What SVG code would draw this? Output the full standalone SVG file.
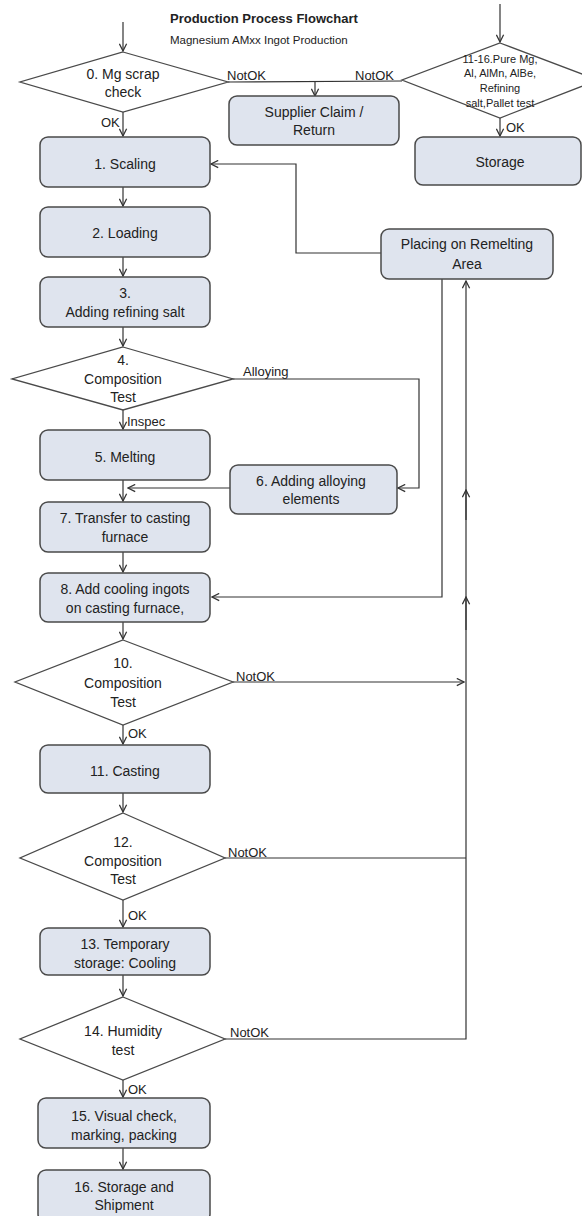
<svg xmlns="http://www.w3.org/2000/svg" width="582" height="1216" viewBox="0 0 582 1216">
<defs>
<style>
.box{fill:#dfe4ee;stroke:#4a4a4a;stroke-width:1.5}
.dia{fill:#ffffff;stroke:#4a4a4a;stroke-width:1.3}
.t{font-family:"Liberation Sans",Arial,sans-serif;font-size:14px;fill:#222;text-anchor:middle}
.s{font-family:"Liberation Sans",Arial,sans-serif;font-size:11px;fill:#222;text-anchor:middle}
.l{font-family:"Liberation Sans",Arial,sans-serif;font-size:13px;fill:#222}
.c{fill:none;stroke:#333;stroke-width:1.2}
</style>
<marker id="arr" viewBox="0 0 10 10" refX="9" refY="5" markerWidth="9" markerHeight="9" markerUnits="userSpaceOnUse" orient="auto">
<path d="M1,1 L9,5 L1,9" fill="none" stroke="#333" stroke-width="1.4"/>
</marker>
</defs>
<rect width="582" height="1216" fill="#ffffff"/>
<g id="title">
<text x="170" y="23" font-family="Liberation Sans,Arial,sans-serif" font-size="13" font-weight="bold" fill="#222">Production Process Flowchart</text>
<text x="170" y="44" font-family="Liberation Sans,Arial,sans-serif" font-size="11.5" fill="#222">Magnesium AMxx Ingot Production</text>
</g>
<g id="connectors">
<line class="c" x1="123" y1="22" x2="123" y2="51" marker-end="url(#arr)"/>
<line class="c" x1="228" y1="82" x2="402" y2="81"/>
<line class="c" x1="315" y1="82" x2="315" y2="96" marker-end="url(#arr)"/>
<line class="c" x1="500" y1="4" x2="500" y2="42" marker-end="url(#arr)"/>
<line class="c" x1="500" y1="118" x2="500" y2="136" marker-end="url(#arr)"/>
<line class="c" x1="123" y1="112" x2="123" y2="136" marker-end="url(#arr)"/>
<line class="c" x1="123" y1="187" x2="123" y2="206" marker-end="url(#arr)"/>
<line class="c" x1="123" y1="257" x2="123" y2="276" marker-end="url(#arr)"/>
<line class="c" x1="123" y1="327" x2="123" y2="346" marker-end="url(#arr)"/>
<line class="c" x1="123" y1="410" x2="123" y2="429" marker-end="url(#arr)"/>
<line class="c" x1="123" y1="480" x2="123" y2="501" marker-end="url(#arr)"/>
<line class="c" x1="123" y1="552" x2="123" y2="572" marker-end="url(#arr)"/>
<line class="c" x1="123" y1="622" x2="123" y2="639" marker-end="url(#arr)"/>
<line class="c" x1="123" y1="725" x2="123" y2="744" marker-end="url(#arr)"/>
<line class="c" x1="123" y1="793" x2="123" y2="812" marker-end="url(#arr)"/>
<line class="c" x1="123" y1="900" x2="123" y2="927" marker-end="url(#arr)"/>
<line class="c" x1="123" y1="975" x2="123" y2="996" marker-end="url(#arr)"/>
<line class="c" x1="123" y1="1080" x2="123" y2="1097" marker-end="url(#arr)"/>
<line class="c" x1="123" y1="1148" x2="123" y2="1169" marker-end="url(#arr)"/>
<polyline class="c" points="233,379 419,379 419,488 398,488" marker-end="url(#arr)"/>
<line class="c" x1="230" y1="488" x2="128" y2="488" marker-end="url(#arr)"/>
<polyline class="c" points="381,253 296,253 296,164 211,164" marker-end="url(#arr)"/>
<polyline class="c" points="442,279 442,597 212,597" marker-end="url(#arr)"/>
<line class="c" x1="233" y1="682" x2="464" y2="682" marker-end="url(#arr)"/>
<polyline class="c" points="225,858 466,858"/>
<polyline class="c" points="225,1039 466,1039 466,281" marker-end="url(#arr)"/>
<line class="c" x1="466" y1="520" x2="466" y2="490" marker-end="url(#arr)"/>
<line class="c" x1="466" y1="630" x2="466" y2="597" marker-end="url(#arr)"/>
</g>
<g id="labels">
<text class="l" x="227" y="80">NotOK</text>
<text class="l" x="355" y="80">NotOK</text>
<text class="l" x="101" y="127">OK</text>
<text class="l" x="506" y="132">OK</text>
<text class="l" x="243" y="376">Alloying</text>
<text class="l" x="127" y="426">Inspec</text>
<text class="l" x="236" y="681">NotOK</text>
<text class="l" x="128" y="738">OK</text>
<text class="l" x="228" y="857">NotOK</text>
<text class="l" x="128" y="920">OK</text>
<text class="l" x="230" y="1037">NotOK</text>
<text class="l" x="128" y="1094">OK</text>
</g>
<g id="n0">
<polygon class="dia" points="123,52 228,82 123,112 20,82"/>
<text class="t" x="123" y="79">0. Mg scrap</text>
<text class="t" x="123" y="97">check</text>
</g>
<g id="n1116">
<polygon class="dia" points="500,43 598,80 500,118 402,80"/>
<text class="s" x="500" y="63">11-16.Pure Mg,</text>
<text class="s" x="500" y="77">Al, AlMn, AlBe,</text>
<text class="s" x="500" y="92">Refining</text>
<text class="s" x="500" y="107">salt,Pallet test</text>
</g>
<g id="supplier">
<rect class="box" x="229" y="96" width="170" height="49" rx="8"/>
<text class="t" x="314" y="117">Supplier Claim /</text>
<text class="t" x="314" y="135">Return</text>
</g>
<g id="storage">
<rect class="box" x="415" y="137" width="166" height="48" rx="8"/>
<text class="t" x="500" y="167">Storage</text>
</g>
<g id="n1">
<rect class="box" x="40" y="137" width="170" height="50" rx="8"/>
<text class="t" x="125" y="169">1. Scaling</text>
</g>
<g id="n2">
<rect class="box" x="40" y="207" width="170" height="50" rx="8"/>
<text class="t" x="125" y="238">2. Loading</text>
</g>
<g id="n3">
<rect class="box" x="40" y="277" width="170" height="50" rx="8"/>
<text class="t" x="125" y="298">3.</text>
<text class="t" x="125" y="317">Adding refining salt</text>
</g>
<g id="remelt">
<rect class="box" x="381" y="229" width="172" height="50" rx="8"/>
<text class="t" x="467" y="249">Placing on Remelting</text>
<text class="t" x="467" y="269">Area</text>
</g>
<g id="n4">
<polygon class="dia" points="123,347 233,379 123,410 12,379"/>
<text class="t" x="123" y="365">4.</text>
<text class="t" x="123" y="384">Composition</text>
<text class="t" x="123" y="402">Test</text>
</g>
<g id="n5">
<rect class="box" x="40" y="430" width="170" height="50" rx="8"/>
<text class="t" x="125" y="462">5. Melting</text>
</g>
<g id="n6">
<rect class="box" x="230" y="465" width="167" height="49" rx="8"/>
<text class="t" x="311" y="486">6. Adding alloying</text>
<text class="t" x="311" y="504">elements</text>
</g>
<g id="n7">
<rect class="box" x="40" y="502" width="170" height="50" rx="8"/>
<text class="t" x="125" y="523">7. Transfer  to casting</text>
<text class="t" x="125" y="542">furnace</text>
</g>
<g id="n8">
<rect class="box" x="40" y="573" width="170" height="49" rx="8"/>
<text class="t" x="125" y="594">8. Add cooling ingots</text>
<text class="t" x="125" y="613">on casting furnace,</text>
</g>
<g id="n10">
<polygon class="dia" points="123,640 233,682 123,725 15,682"/>
<text class="t" x="123" y="668">10.</text>
<text class="t" x="123" y="688">Composition</text>
<text class="t" x="123" y="707">Test</text>
</g>
<g id="n11">
<rect class="box" x="40" y="745" width="170" height="48" rx="8"/>
<text class="t" x="125" y="776">11. Casting</text>
</g>
<g id="n12">
<polygon class="dia" points="123,813 225,858 123,900 20,858"/>
<text class="t" x="123" y="847">12.</text>
<text class="t" x="123" y="866">Composition</text>
<text class="t" x="123" y="884">Test</text>
</g>
<g id="n13">
<rect class="box" x="40" y="928" width="170" height="47" rx="8"/>
<text class="t" x="125" y="949">13. Temporary</text>
<text class="t" x="125" y="968">storage: Cooling</text>
</g>
<g id="n14">
<polygon class="dia" points="123,997 225,1039 123,1080 20,1039"/>
<text class="t" x="123" y="1036">14. Humidity</text>
<text class="t" x="123" y="1055">test</text>
</g>
<g id="n15">
<rect class="box" x="38" y="1098" width="172" height="50" rx="8"/>
<text class="t" x="124" y="1121">15. Visual check,</text>
<text class="t" x="124" y="1140">marking, packing</text>
</g>
<g id="n16">
<rect class="box" x="38" y="1170" width="172" height="52" rx="8"/>
<text class="t" x="124" y="1192">16. Storage and</text>
<text class="t" x="124" y="1210">Shipment</text>
</g>
</svg>
